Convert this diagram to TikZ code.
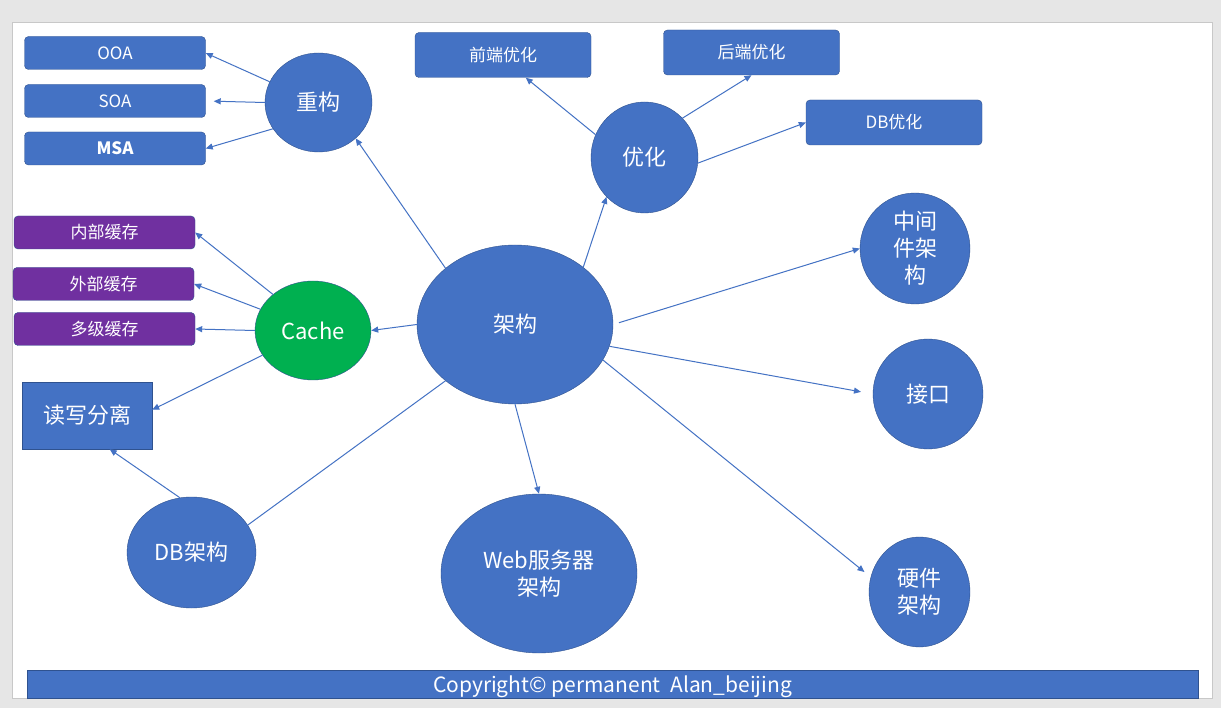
\documentclass[tikz,border=0pt]{standalone}
\usepackage{fontspec}
\setmainfont{Noto Sans CJK SC}
\usepackage{xcolor}
\usepackage{tikz}
\usetikzlibrary{arrows.meta,positioning,calc,shapes.geometric}
\definecolor{archBlue}{RGB}{68,114,196}
\definecolor{archEdge}{RGB}{47,82,143}
\definecolor{cachePurple}{RGB}{112,48,160}
\definecolor{cacheGreen}{RGB}{0,176,80}
\definecolor{pageGray}{RGB}{230,230,230}
\definecolor{pageLine}{RGB}{200,200,200}

\begin{document}
\begin{tikzpicture}[
    x=1pt, y=-1pt,
    every node/.style={text=white, inner sep=0pt},
    smallfont/.style={font=\fontsize{17}{21}\selectfont},
    bigfont/.style={font=\fontsize{22}{27}\selectfont},
    box/.style={rectangle, rounded corners=4pt, draw=archEdge, fill=archBlue,
        minimum width=181pt, minimum height=33pt, smallfont},
    cbox/.style={box, fill=cachePurple},
    optbox/.style={box, minimum width=176pt, minimum height=45pt},
    topic/.style={ellipse, draw=archEdge, fill=archBlue, align=center, bigfont},
    arrow/.style={-{Triangle[length=7pt,width=6pt]}, archBlue, line width=1pt},
    link/.style={archBlue, line width=1pt},
    ]
    % Page
    \useasboundingbox (0,0) rectangle (1221,708);
    \fill[pageGray] (0,0) rectangle (1221,708);
    \draw[pageLine, fill=white] (12,22) rectangle (1212,698);
    % Centre
    \node[topic, minimum width=196pt, minimum height=159pt] (jg) at (515,324.5) {架构};
    % Refactoring
    \node[topic, minimum width=107pt, minimum height=99pt] (cg) at (318.5,102.5) {重构};
    \node[box] (ooa) at (115,53) {OOA};
    \node[box] (soa) at (115,101) {SOA};
    \node[box, font=\fontsize{17}{21}\selectfont\bfseries] (msa) at (115,148.5) {MSA};
    % Optimisation
    \node[topic, minimum width=107pt, minimum height=111pt] (yh) at (644.5,157.5) {优化};
    \node[optbox] (qd) at (503,55) {前端优化};
    \node[optbox] (hd) at (751.5,52.5) {后端优化};
    \node[optbox] (dbyh) at (894,122.5) {DB优化};
    % Cache
    \node[topic, fill=cacheGreen, minimum width=116pt, minimum height=99pt] (cache) at (313,330.5) {Cache};
    \node[cbox] (nb) at (104.5,232.5) {内部缓存};
    \node[cbox] (wb) at (103.5,284) {外部缓存};
    \node[cbox] (dj) at (104.5,329) {多级缓存};
    \node[rectangle, draw=archEdge, fill=archBlue, minimum width=130pt,
        minimum height=67pt, bigfont] (rw) at (87,415.5) {读写分离};
    % Right side
    \node[topic, minimum width=110pt, minimum height=111pt] (zjj) at (915,248.5) {中间\\件架\\构};
    \node[topic, minimum width=110pt, minimum height=110pt] (jk) at (928,394) {接口};
    \node[topic, minimum width=101pt, minimum height=110pt] (yj) at (919.5,592) {硬件\\架构};
    % Bottom
    \node[topic, minimum width=196pt, minimum height=159pt] (web) at (539,573.5) {Web服务器\\架构};
    \node[topic, minimum width=129pt, minimum height=111pt] (dbjg) at (191.5,552.5) {DB架构};
    % Arrows
    \draw[arrow] (cg.157) -- (ooa.east);
    \draw[arrow, shorten >=8pt] (cg.west) -- (soa.east);
    \draw[arrow] (cg.210) -- (msa.east);
    \draw[arrow] (jg.141) -- (cg.316);
    \draw[arrow] (jg.40) -- (yh.226);
    \draw[arrow] (yh.155) -- (qd.315);
    \draw[arrow] (yh.46) -- (hd.south);
    \draw[arrow] (yh.354) -- (dbyh.west);
    \draw[arrow, shorten <=6pt] (jg.east) -- (zjj.west);
    \draw[arrow, shorten >=12pt] (jg.347) -- (jk.west);
    \draw[arrow, shorten >=8pt] (jg.338) -- (yj.163);
    \draw[arrow] (jg.south) -- (web.north);
    \draw[link] (jg.219) -- (dbjg.26);
    \draw[arrow] (dbjg.102) -- (rw.304);
    \draw[arrow] (jg.west) -- (cache.east);
    \draw[arrow] (cache.138) -- (nb.east);
    \draw[arrow] (cache.158) -- (wb.east);
    \draw[arrow] (cache.west) -- (dj.east);
    \draw[arrow] (cache.206) -- (rw.5);
    % Footer
    \node[rectangle, draw=archEdge, fill=archBlue, minimum width=1171pt,
        minimum height=28pt, text height=17pt, text depth=0pt,
        font=\fontsize{21}{25}\selectfont] (foot) at (612.5,684)
        {Copyright© permanent\ \ Alan\_beijing};
\end{tikzpicture}
\end{document}
